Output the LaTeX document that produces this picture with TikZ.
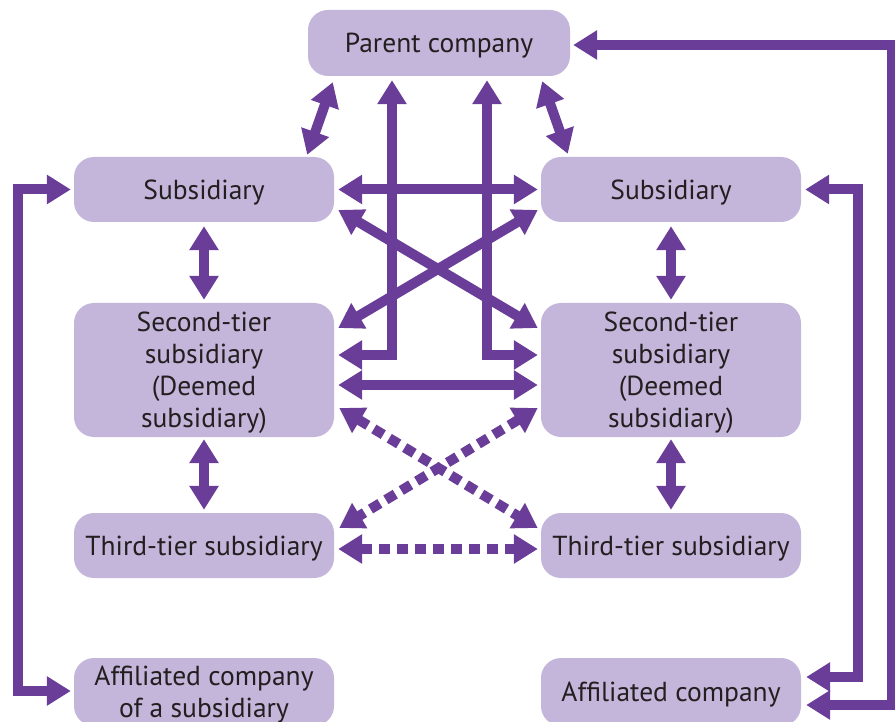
\documentclass[tikz,border=0pt]{standalone}
\usepackage{fontspec}
\setmainfont{PT Sans}
\usetikzlibrary{arrows.meta,calc}
\definecolor{boxfill}{HTML}{C4B5DA}
\definecolor{linkc}{HTML}{6A3D98}
\definecolor{txt}{HTML}{231F20}
% tall strut on the first line of a box label, sets the text a little lower
\newcommand\firstline{\rule{0pt}{25pt}}
\begin{document}
\begin{tikzpicture}[x=1pt,y=-1pt,
  >={Triangle[length=24pt,width=28pt]},
  firm/.style={fill=boxfill, rounded corners=20pt, inner sep=0pt,
    minimum width=260pt, text=txt, align=center,
    font=\fontsize{27.5}{32}\selectfont},
  link/.style={draw=linkc, line width=10pt, <->},
  dotlink/.style={link, dash pattern=on 11pt off 7pt}]
\clip (0,0) rectangle (895,722);

% company boxes
\node[firm, minimum width=262pt, minimum height=66pt] (parent) at (439,43) {\firstline Parent company};
\node[firm, minimum height=65pt] (subL) at (204,189.5) {\firstline Subsidiary};
\node[firm, minimum height=65pt] (subR) at (671,189.5) {\firstline Subsidiary};
\node[firm, minimum height=134pt] (secL) at (204,370) {\firstline Second-tier\\subsidiary\\(Deemed\\subsidiary)};
\node[firm, minimum height=134pt] (secR) at (671,370) {\firstline Second-tier\\subsidiary\\(Deemed\\subsidiary)};
\node[firm, minimum height=65pt] (thrL) at (204,545.5) {\firstline Third-tier subsidiary};
\node[firm, minimum height=65pt] (thrR) at (671,545.5) {\firstline Third-tier subsidiary};
\node[firm, minimum height=68pt] (affL) at (204,692) {\firstline Affiliated company\\of a subsidiary};
\node[firm, minimum height=68pt] (affR) at (671,692) {\firstline Affiliated company};

% parent to subsidiaries
\draw[link] ($(parent.south west)+(25,6)$) -- ($(subL.north east)+(-27,-2)$);
\draw[link] ($(parent.south east)+(-28,5)$) -- ($(subR.north west)+(27,-3)$);

% parent to second tier
\draw[link] ($(parent.south)+(-47,4)$) |- ($(secL.east)+(4,-15)$);
\draw[link] ($(parent.south)+(48,4)$) |- ($(secR.west)+(-3,-15)$);

% between subsidiaries and across to second tier
\draw[link] ($(subL.east)+(4,0)$) -- ($(subR.west)+(-3,0)$);
\draw[link] ($(subL.east)+(4,20.5)$) -- ($(secR.west)+(-3,-42)$);
\draw[link] ($(subR.west)+(-3,20.5)$) -- ($(secL.east)+(4,-42)$);
\draw[link] ($(secL.east)+(4,15)$) -- ($(secR.west)+(-3,15)$);

% vertical tiers
\draw[link] ($(subL.south)+(0,4)$) -- ($(secL.north)+(0,-3)$);
\draw[link] ($(subR.south)+(0,4)$) -- ($(secR.north)+(0,-3)$);
\draw[link] ($(secL.south)+(0,2)$) -- ($(thrL.north)+(0,-3)$);
\draw[link] ($(secR.south)+(0,2)$) -- ($(thrR.north)+(0,-3)$);

% deemed relations (dashed)
\draw[dotlink] ($(secL.east)+(5,38)$) -- ($(thrR.west)+(-3,-17.5)$);
\draw[dotlink] ($(secR.west)+(-3,38)$) -- ($(thrL.east)+(5,-17.5)$);
\draw[dotlink] ($(thrL.east)+(4,3.5)$) -- ($(thrR.west)+(-3,3.5)$);

% affiliated companies
\draw[link] ($(subL.west)+(-3,0)$) -- ++(-53,0) |- ($(affL.west)+(-3,-1)$);
\draw[link] ($(subR.east)+(4,0)$) -- ++(53,0) |- ($(affR.east)+(5,-15)$);
\draw[link] ($(parent.east)+(3,2)$) -- ++(319,0) |- ($(affR.east)+(5,13)$);
\end{tikzpicture}
\end{document}
